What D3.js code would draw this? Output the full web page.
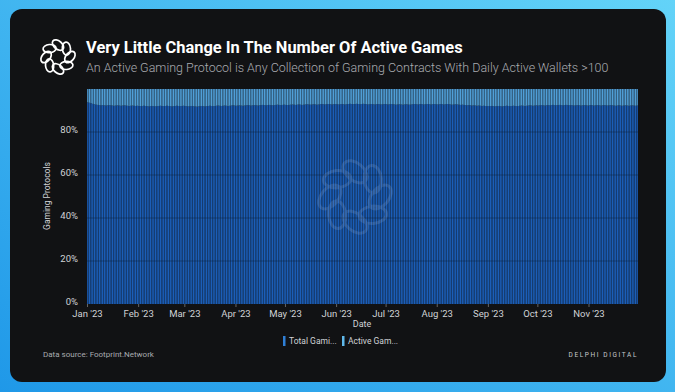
<!DOCTYPE html>
<html><head><meta charset="utf-8">
<script src="https://cdn.jsdelivr.net/npm/d3@7/dist/d3.min.js"></script>
<style>html,body{margin:0;padding:0;background:#3fb2ef;}svg{display:block;}</style>
</head><body>
<script>
// ---- DATA ----
const seriesNames = ["Total Gaming Protocols", "Active Gaming Protocols"];
const legendLabels = ["Total Gami...", "Active Gam..."];
const yTickLabels = ["0%", "20%", "40%", "60%", "80%"];
const yTickValues = [0, 20, 40, 60, 80];
// daily share (%) of the top (light) series, Jan 1 – Nov 30 2023
const activeJan = [6.2,6.4,6.6,6.9,7.1,7.3,7.4,7.5,7.6,7.5,7.6,7.7,7.6,7.5,7.6,7.7,7.8,7.7,7.6,7.7,7.8,7.7,7.6,7.7,7.8,7.9,7.8,7.7,7.8,7.9,7.8];
const activeFeb = [7.9,8.0,7.9,7.8,7.9,8.0,8.1,8.0,7.9,8.0,8.1,8.0,7.9,7.8,7.9,8.0,7.9,7.8,7.9,8.0,8.1,8.0,7.9,7.8,7.9,8.0,7.9,7.8];
const activeMar = [7.9,8.0,8.1,8.0,7.9,8.0,8.1,8.2,8.1,8.0,7.9,8.0,8.1,8.0,7.9,7.8,7.9,8.0,7.9,7.8,7.7,7.8,7.9,7.8,7.7,7.8,7.9,7.8,7.7,7.6,7.7];
const activeApr = [7.8,7.7,7.6,7.7,7.8,7.7,7.6,7.5,7.6,7.7,7.6,7.5,7.6,7.7,7.6,7.5,7.4,7.5,7.6,7.5,7.4,7.5,7.6,7.5,7.4,7.3,7.4,7.5,7.4,7.3];
const activeMay = [7.4,7.5,7.4,7.3,7.2,7.3,7.4,7.3,7.2,7.3,7.4,7.3,7.2,7.1,7.2,7.3,7.2,7.1,7.2,7.3,7.2,7.1,7.0,7.1,7.2,7.1,7.0,7.1,7.2,7.1,7.0];
const activeJun = [7.1,7.2,7.1,7.0,7.1,7.2,7.1,7.0,6.9,7.0,7.1,7.0,6.9,7.0,7.1,7.0,6.9,7.0,7.1,7.2,7.1,7.0,7.1,7.2,7.1,7.0,7.1,7.2,7.1,7.0];
const activeJul = [7.1,7.2,7.1,7.0,7.1,7.2,7.3,7.2,7.1,7.2,7.3,7.2,7.1,7.2,7.3,7.2,7.1,7.0,7.1,7.2,7.1,7.0,7.1,7.2,7.1,7.0,7.1,7.2,7.1,7.0,7.1];
const activeAug = [7.2,7.1,7.0,7.1,7.2,7.1,7.0,7.1,7.2,7.3,7.2,7.1,7.2,7.3,7.4,7.3,7.4,7.5,7.6,7.5,7.6,7.7,7.6,7.7,7.8,7.7,7.8,7.9,7.8,7.9,8.0];
const activeSep = [7.9,8.0,7.9,8.0,8.1,8.0,7.9,8.0,8.1,8.0,7.9,7.8,7.9,8.0,7.9,7.8,7.9,8.0,7.9,7.8,7.7,7.8,7.9,7.8,7.7,7.6,7.7,7.8,7.7,7.6];
const activeOct = [7.7,7.6,7.5,7.6,7.7,7.6,7.5,7.6,7.5,7.4,7.5,7.6,7.5,7.4,7.5,7.6,7.5,7.4,7.5,7.6,7.5,7.6,7.7,7.6,7.5,7.6,7.7,7.6,7.5,7.6,7.7];
const activeNov = [7.6,7.5,7.6,7.7,7.6,7.5,7.6,7.7,7.6,7.5,7.6,7.7,7.6,7.5,7.6,7.7,7.8,7.7,7.6,7.7,7.8,7.7,7.6,7.7,7.8,7.7,7.6,7.7,7.8,7.7];

const activeShare = [].concat(activeJan, activeFeb, activeMar, activeApr, activeMay, activeJun,
  activeJul, activeAug, activeSep, activeOct, activeNov);
const dates = d3.timeDay.range(new Date(2023, 0, 1), new Date(2023, 10, 1 + activeNov.length));
const rows = dates.map((d, i) => ({ date: d, active: activeShare[i], total: 100 - activeShare[i] }));
const monthTicks = d3.timeMonth.range(new Date(2023, 0, 1), new Date(2023, 11, 1));

// ---- LAYOUT ----
const W = 675, H = 392;
const svg = d3.select("body").append("svg").attr("width", W).attr("height", H);
const defs = svg.append("defs");
const bg = defs.append("linearGradient").attr("id", "bg").attr("x1", "0").attr("y1", "1").attr("x2", "1").attr("y2", "0");
bg.append("stop").attr("offset", "0").attr("stop-color", "#1f98e8");
bg.append("stop").attr("offset", "1").attr("stop-color", "#63d3f8");
svg.append("rect").attr("width", W).attr("height", H).attr("fill", "url(#bg)");
svg.append("rect").attr("x", 10).attr("y", 9).attr("width", 656).attr("height", 373).attr("rx", 12).attr("fill", "#111214");

const font = "Roboto, 'Noto Sans', sans-serif";

function logo(g, cx, cy, R, color, sw, op) {
  const n = 8, rr = R * 0.32, rc = R * 0.7;
  const gg = g.append("g").attr("opacity", op);
  for (let i = 0; i < n; i++) {
    const a = i * 2 * Math.PI / n - Math.PI / 2;
    const px = cx + rc * Math.cos(a), py = cy + rc * Math.sin(a);
    gg.append("ellipse")
      .attr("cx", px).attr("cy", py)
      .attr("rx", rr * 1.2).attr("ry", rr * 0.75)
      .attr("transform", `rotate(${a * 180 / Math.PI + 90 + 40},${px},${py})`)
      .attr("fill", "none").attr("stroke", color).attr("stroke-width", sw);
  }
}

// title icon
logo(svg, 58, 57, 17, "#ffffff", 1.7, 1);

function fitText(sel, target) {
  const w = sel.node().getComputedTextLength();
  const fs = parseFloat(sel.attr("font-size"));
  sel.attr("font-size", fs * target / w);
}
const title = svg.append("text").attr("x", 86).attr("y", 53).attr("fill", "#ffffff")
  .attr("font-family", font).attr("font-weight", 700).attr("font-size", 16)
  .text("Very Little Change In The Number Of Active Games");
fitText(title, 377);
const sub = svg.append("text").attr("x", 86).attr("y", 72).attr("fill", "#a9abb0")
  .attr("font-family", font).attr("font-weight", 300).attr("font-size", 13)
  .text("An Active Gaming Protocol is Any Collection of Gaming Contracts With Daily Active Wallets >100");
fitText(sub, 523);

// ---- SCALES ----
const x0 = 87, x1 = 638, yTop = 89, yBot = 304;
const x = d3.scaleTime().domain([dates[0], d3.timeDay.offset(dates[dates.length - 1], 1)]).range([x0, x1]);
const y = d3.scaleLinear().domain([0, 100]).range([yBot, yTop]);
const color = d3.scaleOrdinal().domain(["total", "active"]).range(["#1b5eb8", "#509fd8"]);

const stack = d3.stack().keys(["total", "active"]);
const series = stack(rows);
const bw = (x1 - x0) / dates.length;

const plot = svg.append("g");
plot.selectAll("g.s").data(series).join("g").attr("class", "s")
  .attr("fill", d => color(d.key))
  .selectAll("rect").data(d => d).join("rect")
  .attr("x", d => x(d.data.date) + bw * 0.1)
  .attr("width", bw * 0.8)
  .attr("y", d => y(d[1]))
  .attr("height", d => y(d[0]) - y(d[1]));

// gridlines over bars
svg.append("g").selectAll("line").data(yTickValues.slice(1)).join("line")
  .attr("x1", x0).attr("x2", x1).attr("y1", d => y(d)).attr("y2", d => y(d))
  .attr("stroke", "#0b1e3a").attr("stroke-opacity", 0.45).attr("stroke-width", 1);

// watermark
logo(svg, 355, 197, 36, "#c8d8f0", 3, 0.14);

// y axis labels
const yAxis = svg.append("g").attr("transform", `translate(${x0 - 6},0)`)
  .call(d3.axisLeft(y).tickValues(yTickValues).tickSize(0).tickFormat((d, i) => yTickLabels[i]));
yAxis.select(".domain").remove();
yAxis.selectAll("text").attr("fill", "#d0d2d6").attr("font-family", font).attr("font-size", 9.5).attr("dy", "0").attr("dx", "0");

svg.append("text").attr("transform", `translate(50,196) rotate(-90)`).attr("text-anchor", "middle")
  .attr("fill", "#d0d2d6").attr("font-family", font).attr("font-size", 8.5).text("Gaming Protocols");

// x axis
const xAxis = svg.append("g").attr("transform", `translate(0,${yBot})`)
  .call(d3.axisBottom(x).tickValues(monthTicks).tickSize(3).tickPadding(3).tickFormat(d3.timeFormat("%b '%y")));
xAxis.select(".domain").remove();
xAxis.selectAll(".tick line").attr("stroke", "#666");
xAxis.selectAll("text").attr("fill", "#d0d2d6").attr("font-family", font).attr("font-size", 9.5);

svg.append("text").attr("x", 362).attr("y", 327).attr("text-anchor", "middle")
  .attr("fill", "#d0d2d6").attr("font-family", font).attr("font-size", 9).text("Date");

// legend
const legX = [283, 342];
const legColors = ["#2f7fd6", "#5fb8ea"];
const lg = svg.append("g").selectAll("g").data(["total", "active"]).join("g")
  .attr("transform", (d, i) => `translate(${legX[i]},341)`);
lg.append("rect").attr("x", 0).attr("y", -5).attr("width", 2.5).attr("height", 10).attr("fill", (d, i) => legColors[i]);
lg.append("text").attr("x", 6).attr("y", 3).attr("fill", "#d0d2d6").attr("font-family", font).attr("font-size", 8.5)
  .text((d, i) => legendLabels[i]);

// footer
svg.append("text").attr("x", 43).attr("y", 357).attr("fill", "#a9abb0").attr("font-family", font).attr("font-size", 8)
  .text("Data source: Footprint.Network");
svg.append("text").attr("x", 638).attr("y", 357).attr("text-anchor", "end").attr("fill", "#c6c8cc")
  .attr("font-family", font).attr("font-size", 6.5).attr("letter-spacing", 1.6).text("DELPHI DIGITAL");
</script>
</body></html>
